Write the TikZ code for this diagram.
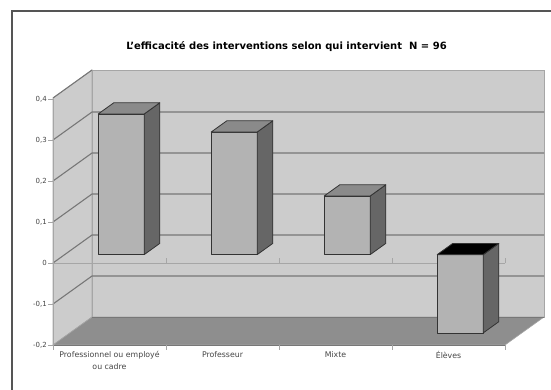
\documentclass[tikz,border=0pt]{standalone}
\usepackage{fontspec}
\setmainfont{DejaVu Sans}
\usetikzlibrary{positioning}
\definecolor{wallgray}{HTML}{CCCCCC}
\definecolor{floorgray}{HTML}{8E8E8E}
\definecolor{gridgray}{HTML}{777777}
\definecolor{edgegray}{HTML}{A6A6A6}
\definecolor{frontgray}{HTML}{B3B3B3}
\definecolor{topgray}{HTML}{8A8A8A}
\definecolor{sidegray}{HTML}{666666}
\definecolor{bargray}{HTML}{333333}
\definecolor{labgray}{HTML}{444444}
\definecolor{framegray}{HTML}{555555}

\begin{document}
\begin{tikzpicture}[x=1pt, y=-1pt]
\tikzstyle{wall}=[fill=wallgray, draw=edgegray, line width=0.6pt]
\tikzstyle{floor}=[fill=floorgray, draw=edgegray, line width=0.6pt]
\tikzstyle{grid}=[draw=gridgray, line width=1.1pt]
\tikzstyle{axis}=[draw=edgegray, line width=0.6pt]
\tikzstyle{bar}=[draw=bargray, line width=0.8pt, line join=round]
\tikzstyle{ylab}=[anchor=east, inner sep=0pt, text=labgray, font=\fontsize{7}{8}\selectfont]
\tikzstyle{xlab}=[anchor=north, inner sep=0pt, align=center, text=labgray, font=\fontsize{7.8}{12}\selectfont]

\useasboundingbox (0,0) rectangle (551,390);

\def \xl {53}
\def \xr {505}
\def \dx {39}
\def \dy {28}
\def \yz {263}
\def \u {410}

% frame
\draw[framegray, line width=1.4pt] (12,390) -- (12,11) -- (551,11);

\node (title) at (286.5,47) {\fontsize{10}{11}\selectfont\bfseries L’efficacité des interventions selon qui intervient\ \ N = 96};

% walls and floor
\path[wall] (\xl,98) -- (\xl+\dx,98-\dy) -- (\xl+\dx,345-\dy) -- (\xl,345) -- cycle;
\path[wall] (\xl+\dx,98-\dy) rectangle (\xr+\dx,345-\dy);
\path[floor] (\xl,345) -- (\xl+\dx,345-\dy) -- (\xr+\dx,345-\dy) -- (\xr,345) -- cycle;
\draw[gridgray, line width=0.8pt] (\xl+\dx,345-\dy) -- (\xr+\dx,345-\dy);
\draw[gridgray, line width=0.8pt] (\xl,345) -- (\xr,345);

% grid lines
\draw[grid] (\xl,98) -- (\xl+\dx,98-\dy);
\foreach \v in {0.3,0.2,0.1,0,-0.1}{
    \pgfmathsetmacro\yy{\yz-\v*\u}
    \draw[grid] (\xl,\yy) -- (\xl+\dx,\yy-\dy) -- (\xr+\dx,\yy-\dy);
}

% axes
\draw[axis] (\xl,98) -- (\xl,345);
\draw[axis] (\xl,\yz) -- (\xr,\yz);
\foreach \x in {166,279,392,505}{
    \draw[axis] (\x,\yz) -- (\x,\yz-5);
}
\foreach \x in {53,166,279,392,505}{
    \draw[axis] (\x,345) -- (\x,350);
}
\foreach \v/\t/\n in {0.4/{0,4}/a, 0.3/{0,3}/b, 0.2/{0,2}/c, 0.1/{0,1}/d, 0/{0}/e, -0.1/{-0,1}/f, -0.2/{-0,2}/g}{
    \pgfmathsetmacro\yy{\yz-\v*\u}
    \draw[axis] (\xl-5,\yy) -- (\xl,\yy);
    \node[ylab] (y\n) at (\xl-6,\yy) {\t};
}

% bars
\foreach \c/\v/\tc in {109.5/0.343/topgray, 222.5/0.299/topgray, 335.5/0.143/topgray, 448.5/-0.191/black}{
    \pgfmathsetmacro\yt{\yz-8.4-max(\v,0)*\u}
    \pgfmathsetmacro\yb{\yz-8.4-min(\v,0)*\u}
    \pgfmathsetmacro\xa{\c-23+11.7}
    \pgfmathsetmacro\xb{\c+23+11.7}
    \path[bar, fill=frontgray] (\xa,\yt) rectangle (\xb,\yb);
    \path[bar, fill=sidegray] (\xb,\yt) -- (\xb+15.6,\yt-11.2) -- (\xb+15.6,\yb-11.2) -- (\xb,\yb) -- cycle;
    \path[bar, fill=\tc] (\xa,\yt) -- (\xa+15.6,\yt-11.2) -- (\xb+15.6,\yt-11.2) -- (\xb,\yt) -- cycle;
}

% category labels
\node[xlab] (prof) at (109.5,351) {Professionnel ou employé\\ou cadre};
\node[xlab] (pr) at (222.5,351) {Professeur};
\node[xlab] (mix) at (335.5,351) {Mixte};
\node[xlab] (el) at (448.5,351) {Élèves};
\end{tikzpicture}
\end{document}
